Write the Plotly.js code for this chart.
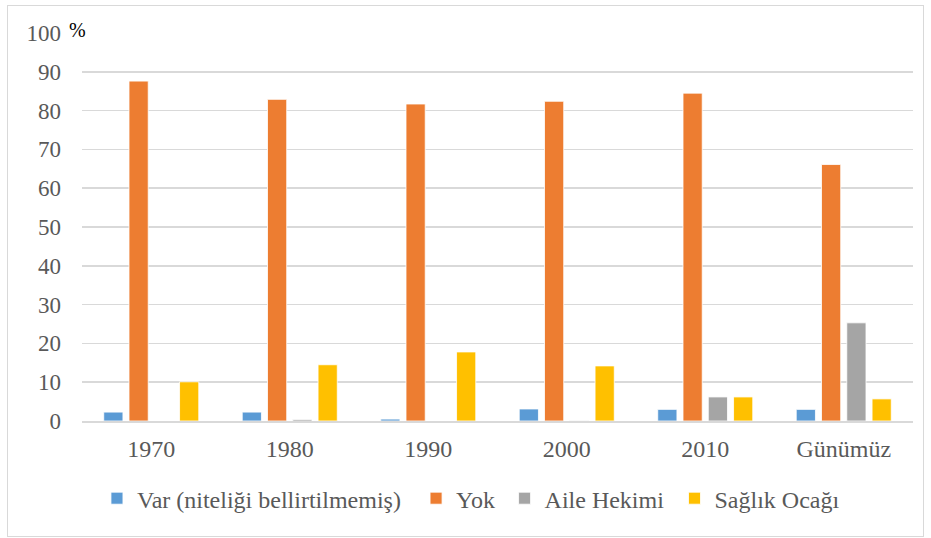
<!DOCTYPE html>
<html>
<head>
<meta charset="utf-8">
<script src="https://cdn.plot.ly/plotly-3.0.1.min.js"></script>
<style>
  html, body { margin: 0; padding: 0; background: #ffffff; }
  #frame { position: absolute; left: 7px; top: 5px; width: 917px; height: 532px; border: 1.5px solid #d9d9d9; box-sizing: border-box; }
  #chart { position: absolute; left: 0; top: 0; width: 931px; height: 538px; }
</style>
</head>
<body>
<div id="frame"></div>
<div id="chart"></div>
<script>
const categories = ["1970", "1980", "1990", "2000", "2010", "Günümüz"];
const seriesNames = ["Var (niteliği bellirtilmemiş)", "Yok", "Aile Hekimi", "Sağlık Ocağı"];
const varValues = [2.3, 2.3, 0.5, 3.1, 3.0, 3.0];
const yokValues = [87.6, 82.9, 81.7, 82.4, 84.5, 66.1];
const aileValues = [0, 0.4, 0, 0.1, 6.2, 25.3];
const ocakValues = [10.1, 14.5, 17.8, 14.2, 6.2, 5.7];
const colors = ["#5b9bd5", "#ed7d31", "#a5a5a5", "#ffc000"];
const yTicks = [0, 10, 20, 30, 40, 50, 60, 70, 80, 90, 100];

const FONT = "'Liberation Serif', 'Times New Roman', serif";
const legendIds = ["legend", "legend2", "legend3", "legend4"];
const legendX = [0.018, 0.402, 0.5085, 0.713];

const allValues = [varValues, yokValues, aileValues, ocakValues];
const traces = allValues.map((vals, i) => ({
  type: "bar",
  name: seriesNames[i],
  x: categories,
  y: vals,
  legend: legendIds[i],
  showlegend: true,
  marker: { color: colors[i], line: { color: "#ffffff", width: 0.8 } },
  hoverinfo: "x+y+name"
}));

const layout = {
  width: 931,
  height: 538,
  showlegend: true,
  paper_bgcolor: "rgba(0,0,0,0)",
  plot_bgcolor: "#ffffff",
  margin: { l: 82, r: 18, t: 33, b: 117 },
  barmode: "group",
  bargap: 0.27,
  bargroupgap: 0.24,
  font: { family: FONT, color: "#595959", size: 24 },
  xaxis: {
    type: "category",
    showgrid: false,
    showline: true,
    linecolor: "#d9d9d9",
    linewidth: 2,
    ticks: "",
    tickfont: { family: FONT, size: 24, color: "#595959" },
    ticklabelstandoff: 5
  },
  yaxis: {
    range: [0, 100],
    tickvals: yTicks,
    ticktext: yTicks.map(String),
    showgrid: true,
    gridcolor: "#d9d9d9",
    gridwidth: 1.5,
    zeroline: false,
    showline: false,
    ticks: "",
    ticklabelstandoff: 20,
    tickfont: { family: FONT, size: 23, color: "#595959" }
  },
  annotations: [{
    text: "%",
    xref: "paper",
    yref: "paper",
    x: -0.006,
    y: 1.008,
    xanchor: "center",
    yanchor: "middle",
    showarrow: false,
    font: { size: 20, color: "#000000", family: FONT }
  }]
};

legendIds.forEach((id, i) => {
  layout[id] = {
    orientation: "h",
    visible: true,
    x: legendX[i],
    xanchor: "left",
    y: -0.2,
    yanchor: "middle",
    font: { family: FONT, size: 24, color: "#595959" },
    itemwidth: 30,
    bgcolor: "rgba(0,0,0,0)"
  };
});

Plotly.newPlot("chart", traces, layout, { displayModeBar: false, staticPlot: true });
</script>
</body>
</html>
